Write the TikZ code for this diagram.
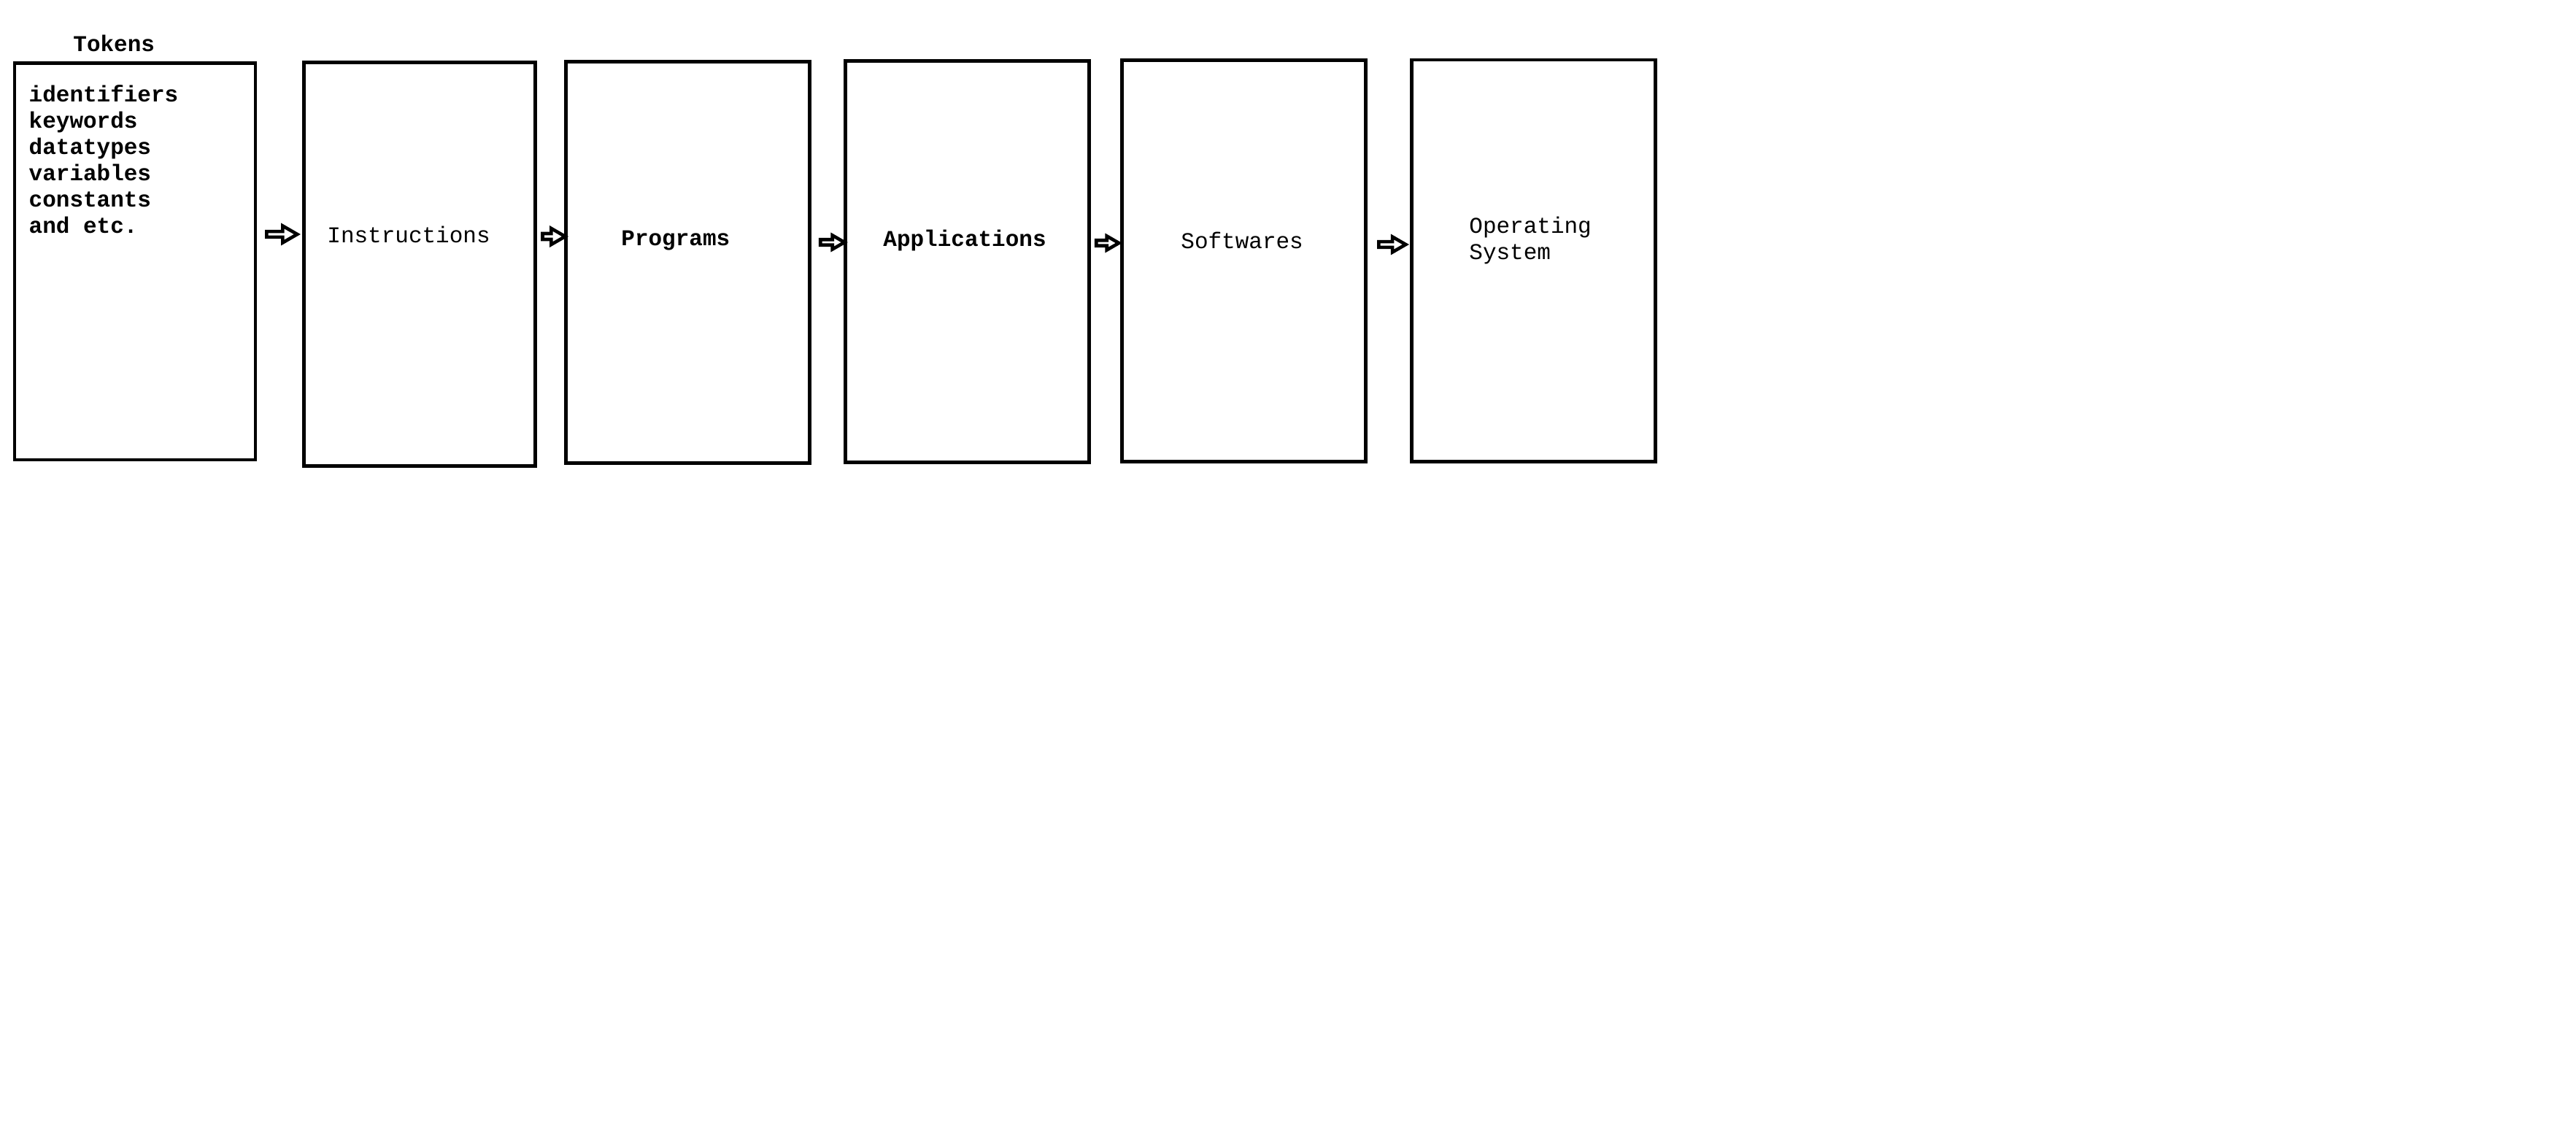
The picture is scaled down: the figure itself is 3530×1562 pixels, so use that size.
\documentclass[tikz,border=0pt]{standalone}
\usepackage{fontspec}
\setmainfont{Liberation Mono}
\usetikzlibrary{shapes.arrows}
\tikzset{
  box/.style={draw=black, line width=2.35pt, rectangle, inner sep=0pt},
  lbl/.style={anchor=base west, inner sep=0pt, font=\fontsize{15.5}{18}\selectfont},
  blbl/.style={lbl, font=\fontsize{15.5}{18}\selectfont\bfseries},
  blockarrow/.style={single arrow, draw=black, line width=2.3pt, inner sep=0pt,
    single arrow head extend=2pt, single arrow tip angle=60, shape border rotate=0}
}
\begin{document}
\begin{tikzpicture}[x=0.5pt, y=-0.5pt]
\useasboundingbox (0,0) rectangle (3530,1562);
\fill[white] (0,0) rectangle (3530,1562);
% boxes: centre, width, height in px
\node[box, minimum width=165pt, minimum height=271.75pt] (b1) at (185,358.25) {};
\node[box, minimum width=158.5pt, minimum height=276.6pt] (b2) at (575,361.9) {};
\node[box, minimum width=167pt, minimum height=275.1pt] (b3) at (942.5,359.4) {};
\node[box, minimum width=167pt, minimum height=275.1pt] (b4) at (1325.5,358.4) {};
\node[box, minimum width=167pt, minimum height=275pt] (b5) at (1704.5,357.5) {};
\node[box, minimum width=167pt, minimum height=275.25pt] (b6) at (2101.5,357.25) {};
% texts (multi-line nodes: base = last line)
\node[blbl] (tok) at (100,70.7) {Tokens};
\node[blbl, align=left] (list) at (39.3,320) {identifiers\\keywords\\datatypes\\variables\\constants\\and etc.};
\node[lbl] (t2) at (448,333) {Instructions};
\node[blbl] (t3) at (851,336) {Programs};
\node[blbl] (t4) at (1210,338) {Applications};
\node[lbl] (t5) at (1618,341) {Softwares};
\node[lbl, align=left] (t6) at (2013,356) {Operating\\System};
% block arrows
\node[blockarrow, minimum height=21pt, minimum width=11.5pt, single arrow head extend=2.3pt] (a1) at (383,321) {};
\node[blockarrow, minimum height=15.5pt, minimum width=11pt] (a2) at (755.5,324) {};
\node[blockarrow, minimum height=16.5pt, minimum width=9.5pt, single arrow head extend=1.8pt] (a3) at (1137.5,332) {};
\node[blockarrow, minimum height=15.5pt, minimum width=9.5pt, single arrow head extend=1.8pt] (a4) at (1514.5,333) {};
\node[blockarrow, minimum height=18.5pt, minimum width=10.5pt] (a5) at (1904.5,335) {};
\end{tikzpicture}
\end{document}
